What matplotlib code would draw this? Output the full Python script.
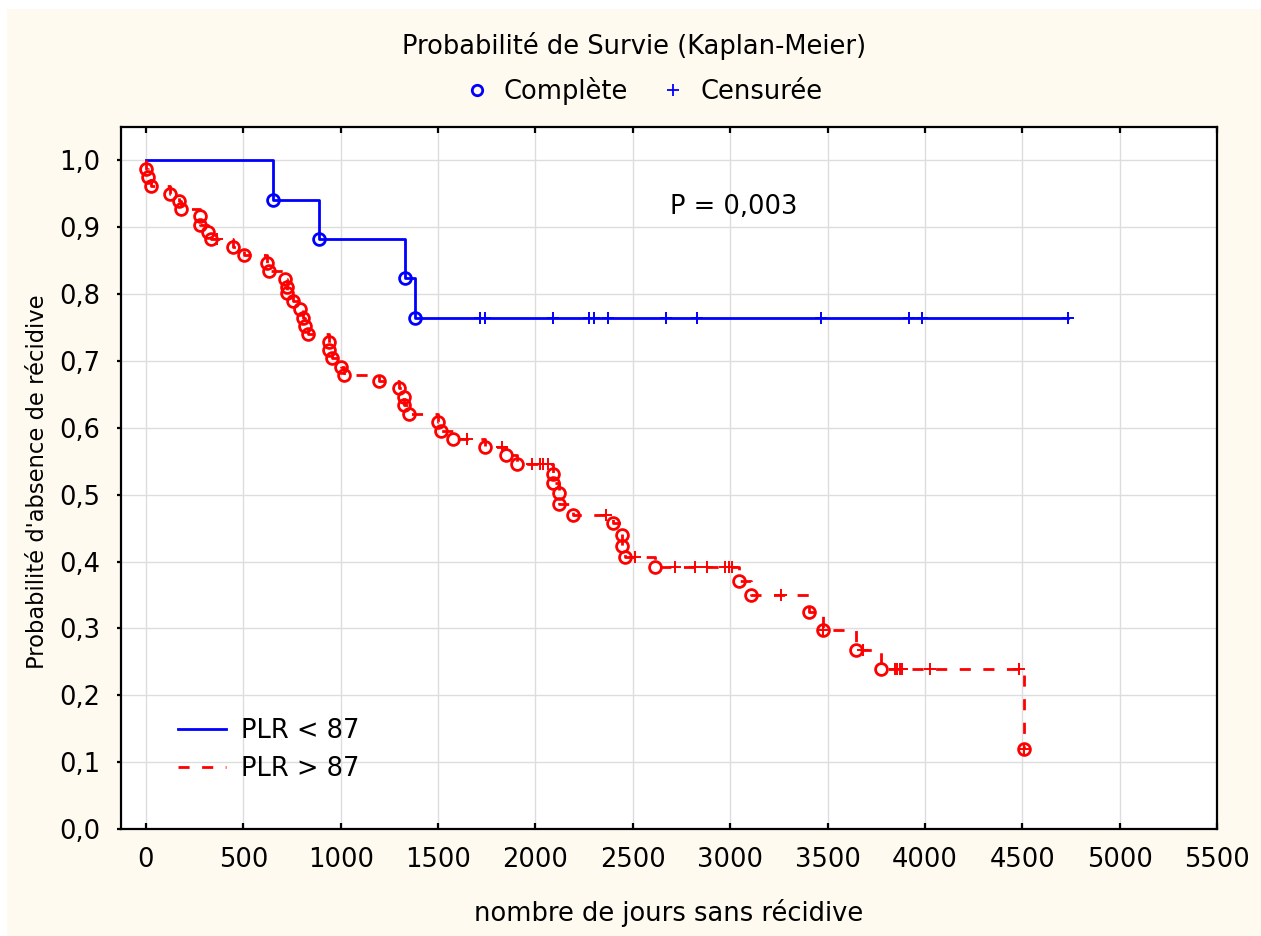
import numpy as np
import matplotlib
matplotlib.use("Agg")
import matplotlib.pyplot as plt
from matplotlib.lines import Line2D
from matplotlib.patches import Rectangle

plt.rcParams['font.family'] = ['DejaVu Sans']

# PLR < 87 (blue)
blue_t = [655, 890, 1329, 1381]
blue_s = [0.941, 0.882, 0.824, 0.765]
blue_cens = [1715, 1740, 2091, 2276, 2303, 2373, 2671, 2829, 3464, 3916, 3986, 4736]

# PLR > 87 (red)
red_t = [2, 12, 25, 123, 170, 178, 277, 277, 320, 333, 448, 503, 623, 630,
         715, 723, 723, 757, 791, 805, 816, 830, 941, 941, 953, 1004, 1016,
         1198, 1300, 1326, 1326, 1352, 1500, 1517, 1577, 1739, 1848, 1908,
         2091, 2091, 2120, 2120, 2191, 2399, 2447, 2447, 2459, 2613, 3046,
         3109, 3405, 3477, 3645, 3776, 4507]
red_s = [0.987, 0.975, 0.962, 0.950, 0.940, 0.928, 0.917, 0.904, 0.893, 0.883,
         0.871, 0.858, 0.846, 0.834, 0.823, 0.811, 0.802, 0.790, 0.778, 0.764,
         0.752, 0.741, 0.728, 0.716, 0.704, 0.691, 0.679, 0.670, 0.659, 0.646,
         0.634, 0.621, 0.609, 0.596, 0.584, 0.572, 0.559, 0.546, 0.531, 0.518,
         0.502, 0.486, 0.469, 0.457, 0.440, 0.423, 0.407, 0.392, 0.371, 0.350,
         0.325, 0.297, 0.268, 0.239, 0.119]
red_cens = [366, 1650, 1826, 1980, 2023, 2040, 2065, 2365, 2510, 2716, 2818,
            2879, 2972, 2993, 3008, 3263, 3477, 3682, 3845, 3859, 3871, 3884,
            4028, 4483, 4507]

xticks = [0, 500, 1000, 1500, 2000, 2500, 3000, 3500, 4000, 4500, 5000, 5500]
yticks = [0.0, 0.1, 0.2, 0.3, 0.4, 0.5, 0.6, 0.7, 0.8, 0.9, 1.0]
ytick_labels = ['0,0', '0,1', '0,2', '0,3', '0,4', '0,5', '0,6', '0,7', '0,8', '0,9', '1,0']


def level_at(times, surv, t):
    i = np.searchsorted(times, t, side='right')
    return 1.0 if i == 0 else surv[i - 1]


fig = plt.figure(figsize=(12.61, 9.36), dpi=100, facecolor='white')
fig.patches.append(Rectangle((7 / 1261, 0), 1, 1 - 9 / 936, transform=fig.transFigure,
                             facecolor='#fefaf0', edgecolor='none', zorder=-10))
ax = fig.add_axes([121 / 1261, 107 / 936, 1096 / 1261, 702 / 936])
ax.set_facecolor('white')

fs = 18.5
blue = '#0000ff'
red = '#ff0000'
dash = (0, (4, 4.5))

# blue curve
bx = [0] + blue_t + [blue_cens[-1]]
by = [1.0] + blue_s + [blue_s[-1]]
ax.step(bx, by, where='post', color=blue, lw=2, zorder=3)
ax.plot(blue_t, blue_s, 'o', ms=8.5, mfc='none', mec=blue, mew=2, zorder=4)
ax.plot(blue_cens, [level_at(blue_t, blue_s, t) for t in blue_cens], '+',
        ms=9, mec=blue, mew=1.4, zorder=4)

# red curve
rx = [0] + red_t
ry = [1.0] + red_s
ax.step(rx, ry, where='post', color=red, lw=2, ls=dash, zorder=3)
ax.plot(red_t, red_s, 'o', ms=8.5, mfc='none', mec=red, mew=2, zorder=4)
ax.plot(red_cens, [level_at(red_t, red_s, t) for t in red_cens], '+',
        ms=9, mec=red, mew=1.4, zorder=4)

ax.set_xlim(-128, 5500)
ax.set_ylim(0, 1.05)
ax.set_xticks(xticks)
ax.set_xticklabels([str(v) for v in xticks])
ax.set_yticks(yticks)
ax.set_yticklabels(ytick_labels)
ax.grid(True, color='#dddddd', lw=1.0, zorder=0)
ax.set_axisbelow(True)
for sp in ax.spines.values():
    sp.set_linewidth(1.6)
    sp.set_color('black')
ax.tick_params(axis='x', direction='in', length=4, width=1.6, top=True,
               labelsize=fs, pad=13)
ax.tick_params(axis='y', direction='out', length=3, width=1.6,
               labelsize=fs, pad=12)

ax.text(2690, 0.93, 'P = 0,003', fontsize=fs, va='center', ha='left')

fig.text(0.530, 0.0246, 'nombre de jours sans récidive', fontsize=fs,
         ha='center', va='center')
fig.text(0.030, 0.4856, "Probabilité d'absence de récidive", fontsize=16.3,
         ha='center', va='center', rotation=90)
fig.text(0.503, 0.951, 'Probabilité de Survie (Kaplan-Meier)', fontsize=fs,
         ha='center', va='center')

top_handles = [
    Line2D([], [], ls='none', marker='o', ms=7.5, mfc='none', mec=blue, mew=2),
    Line2D([], [], ls='none', marker='+', ms=8, mec=blue, mew=1.3),
]
fig.legend(top_handles, ['Complète', 'Censurée'], loc='center',
           bbox_to_anchor=(0.510, 0.903), ncol=2, frameon=False, fontsize=fs,
           handlelength=1.0, handletextpad=0.55, columnspacing=1.25)

low_handles = [
    Line2D([], [], color=blue, lw=2),
    Line2D([], [], color=red, lw=2, ls=dash),
]
ax.legend(low_handles, ['PLR < 87', 'PLR > 87'], loc='center left',
          bbox_to_anchor=(0.040, 0.113), frameon=False, fontsize=fs,
          borderpad=0, handlelength=1.87, handletextpad=0.58, labelspacing=0.47)

fig.savefig('out.png', dpi=100, facecolor=fig.get_facecolor())
